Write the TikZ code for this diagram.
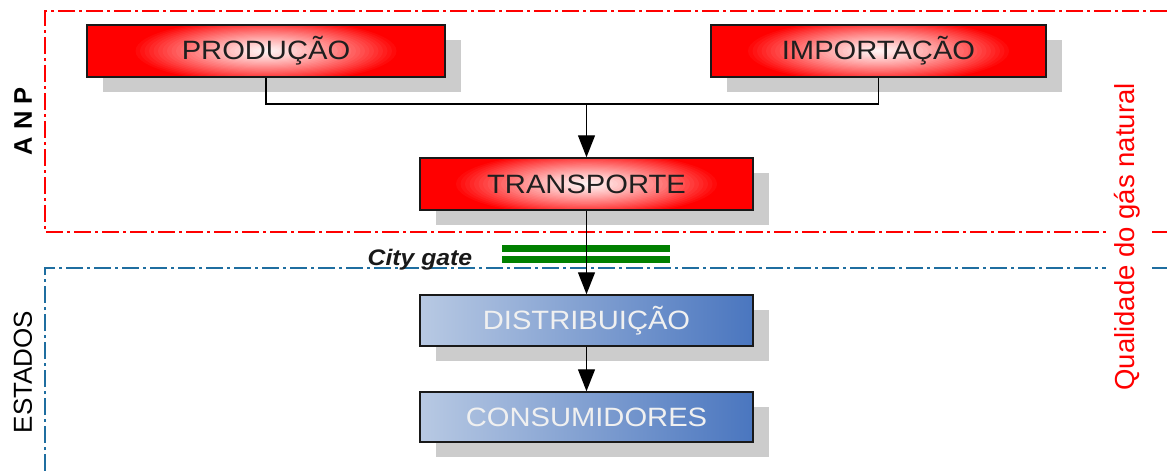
\documentclass[tikz,border=0pt]{standalone}
\usepackage{fontspec}
\setmainfont{Liberation Sans}[FakeStretch=1.1]
\newfontfamily\rotfont{Liberation Sans}
\usetikzlibrary{arrows.meta,shadows}
\definecolor{lineblue}{RGB}{31,110,160}
\definecolor{boxgreen}{RGB}{0,128,0}
\definecolor{bluel}{RGB}{184,201,227}
\definecolor{bluer}{RGB}{74,118,191}
\tikzset{
  boxbase/.style={rectangle, draw=black!90, line width=1.5pt, inner sep=0pt,
    font=\fontsize{26.5}{30}\selectfont,
    drop shadow={shadow xshift=16pt, shadow yshift=-15pt, fill=black!20, opacity=1}},
  redbox/.style={boxbase, fill=red, text=black!88,
    path picture={
      \foreach \k in {30,29,...,1}{
        \pgfmathsetmacro\p{4+96*(\k/30)^1.25}
        \fill[red!\p!white] (path picture bounding box.center) ellipse [x radius=\k*4.5pt, y radius=\k*1.1pt];
      }}},
  bluebox/.style={boxbase, left color=bluel, right color=bluer, text=white!94!black},
  conn/.style={line width=1.4pt, black},
  arr/.style={conn, -{Triangle[width=17pt,length=22pt]}},
  reddash/.style={red, line width=1.2pt, dash pattern=on 17pt off 4pt on 3pt off 4pt},
  bluedash/.style={lineblue, line width=1.2pt, dash pattern=on 17pt off 4pt on 3pt off 4pt},
  sidelabel/.style={rotate=90, font=\rotfont\fontsize{26}{30}\selectfont}
}
\begin{document}
\begin{tikzpicture}[x=1pt,y=-1pt]
\useasboundingbox (0,0) rectangle (1167,471);
% region frames
\draw[reddash] (1167,11) -- (45,11) -- (45,232) -- (1106,232);
\draw[reddash] (1152,232) -- (1167,232);
\draw[bluedash] (45,471) -- (45,268) -- (1106,268);
\draw[bluedash] (1152,268) -- (1167,268);
% side labels
\node[sidelabel, font=\rotfont\bfseries\fontsize{25.5}{30}\selectfont] (anp) at (23,121) {A N P};
\node[sidelabel] (est) at (23,372) {ESTADOS};
\node[sidelabel, text=red, font=\rotfont\fontsize{27.5}{30}\selectfont] (qual) at (1127,237) {Qualidade do gás natural};
% boxes
\node[redbox, minimum width=358pt, minimum height=52pt] (prod) at (266,51) {PRODUÇÃO};
\node[redbox, minimum width=335pt, minimum height=52pt] (imp) at (878.5,51) {IMPORTAÇÃO};
\node[redbox, minimum width=333pt, minimum height=52pt] (trans) at (586.5,184) {TRANSPORTE};
\node[bluebox, minimum width=333pt, minimum height=51pt] (dist) at (586.5,320.5) {DISTRIBUIÇÃO};
\node[bluebox, minimum width=333pt, minimum height=50pt] (cons) at (586.5,417) {CONSUMIDORES};
% city gate
\fill[boxgreen] (502,245) rectangle (670,252);
\fill[boxgreen] (502,256) rectangle (670,263);
\node[anchor=base, inner sep=0pt, font=\bfseries\itshape\fontsize{22.5}{26}\selectfont, text=black!90] (gate) at (420,265) {City gate};
% connectors
\coordinate (junc) at (trans.north |- 0,104);
\draw[conn] (prod.south) |- (junc) -| (imp.south);
\draw[arr] (junc) -- (trans.north);
\draw[arr] (trans.south) -- (dist.north);
\draw[arr] (dist.south) -- (cons.north);
\end{tikzpicture}
\end{document}
